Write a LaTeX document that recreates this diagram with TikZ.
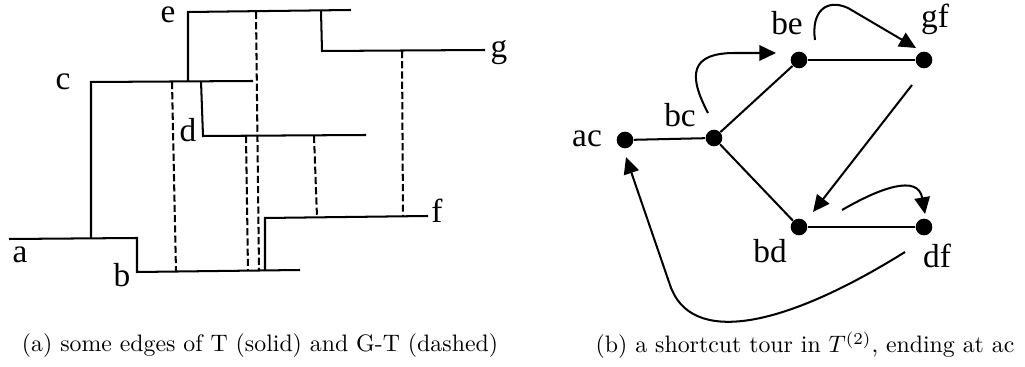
\documentclass[tikz,border=0pt]{standalone}
\usepackage{fontspec}
\newfontfamily\lblfont{Liberation Serif}
\usetikzlibrary{arrows.meta}
\begin{document}
\begin{tikzpicture}[x=0.42pt,y=-0.42pt,
  tline/.style={line width=0.85pt},
  gline/.style={line width=0.85pt,dash pattern=on 3pt off 1.3pt},
  lbl/.style={font=\lblfont\fontsize{14}{16}\selectfont,inner sep=0pt,anchor=base},
  dot/.style={circle,fill=black,minimum size=7pt,inner sep=0pt},
  tedge/.style={line width=0.85pt},
  tour/.style={line width=0.85pt,-{Triangle[length=7pt,width=6.5pt]}},
  captext/.style={font=\normalsize,inner sep=0pt,anchor=base}]
\useasboundingbox (0,0) rectangle (1025,367);
% ---------- panel (a) ----------
\draw[tline] (9,239) -- (137,238) -- (137,272) -- (300,270);
\draw[tline] (91,239) -- (91,82) -- (253,81);
\draw[tline] (188,81) -- (188,12) -- (351,10);
\draw[tline] (321,11) -- (322,51) -- (485,50);
\draw[tline] (201,81) -- (203,136) -- (366,135);
\draw[tline] (265,271) -- (265,218) -- (428,216);
\draw[gline] (172,82) -- (176,272);
\draw[gline] (246,136) -- (248,271);
\draw[gline] (256,12) -- (259,271);
\draw[gline] (314,136) -- (317,217);
\draw[gline] (402,51) -- (403,216);
\node[lbl] (la) at (20,263) {a};
\node[lbl] (lb) at (122,287) {b};
\node[lbl] (lc) at (63,90) {c};
\node[lbl] (ld) at (188,142) {d};
\node[lbl] (le) at (168,23) {e};
\node[lbl] (lf) at (437,223) {f};
\node[lbl] (lg) at (499,58) {g};
\node[captext] (capa) at (260,352) {(a) some edges of T (solid) and G-T (dashed)};
% ---------- panel (b) ----------
\node[dot] (ac) at (625,140) {};
\node[dot] (bc) at (714,138) {};
\node[dot] (be) at (799,60) {};
\node[dot] (gf) at (924,60) {};
\node[dot] (bd) at (799,227) {};
\node[dot] (df) at (924,227) {};
\node[lbl] at (587,147) {ac};
\node[lbl] at (680,127) {bc};
\node[lbl] at (787,35) {be};
\node[lbl] at (935,28) {gf};
\node[lbl] at (770,263) {bd};
\node[lbl] at (937,268) {df};
\draw[tedge] (ac) -- (bc);
\draw[tedge] (bc) -- (be);
\draw[tedge] (be) -- (gf);
\draw[tedge] (bc) -- (bd);
\draw[tedge] (bd) -- (df);
\coordinate (t1s) at (708,113);
\coordinate (t1e) at (776,53);
\coordinate (t2s) at (815,40);
\coordinate (t2e) at (916,48);
\coordinate (t3s) at (912,85);
\coordinate (t3e) at (813,212);
\coordinate (t4s) at (842,210);
\coordinate (t4e) at (925,214);
\coordinate (t5s) at (905,252);
\coordinate (t5e) at (626,157);
\draw[tour] (t1s) .. controls (688,75) and (690,53) .. (735,53) -- (t1e);
\draw[tour] (t2s) .. controls (811,12) and (826,-2) .. (848,8) -- (t2e);
\draw[tour] (t3s) -- (t3e);
\draw[tour] (t4s) .. controls (880,188) and (918,174) .. (t4e);
\draw[tour] (t5s) .. controls (780,330) and (690,345) .. (670,285) -- (t5e);
\node[captext] (capb) at (805,353) {(b) a shortcut tour in $T^{(2)}$, ending at ac};
\end{tikzpicture}
\end{document}
